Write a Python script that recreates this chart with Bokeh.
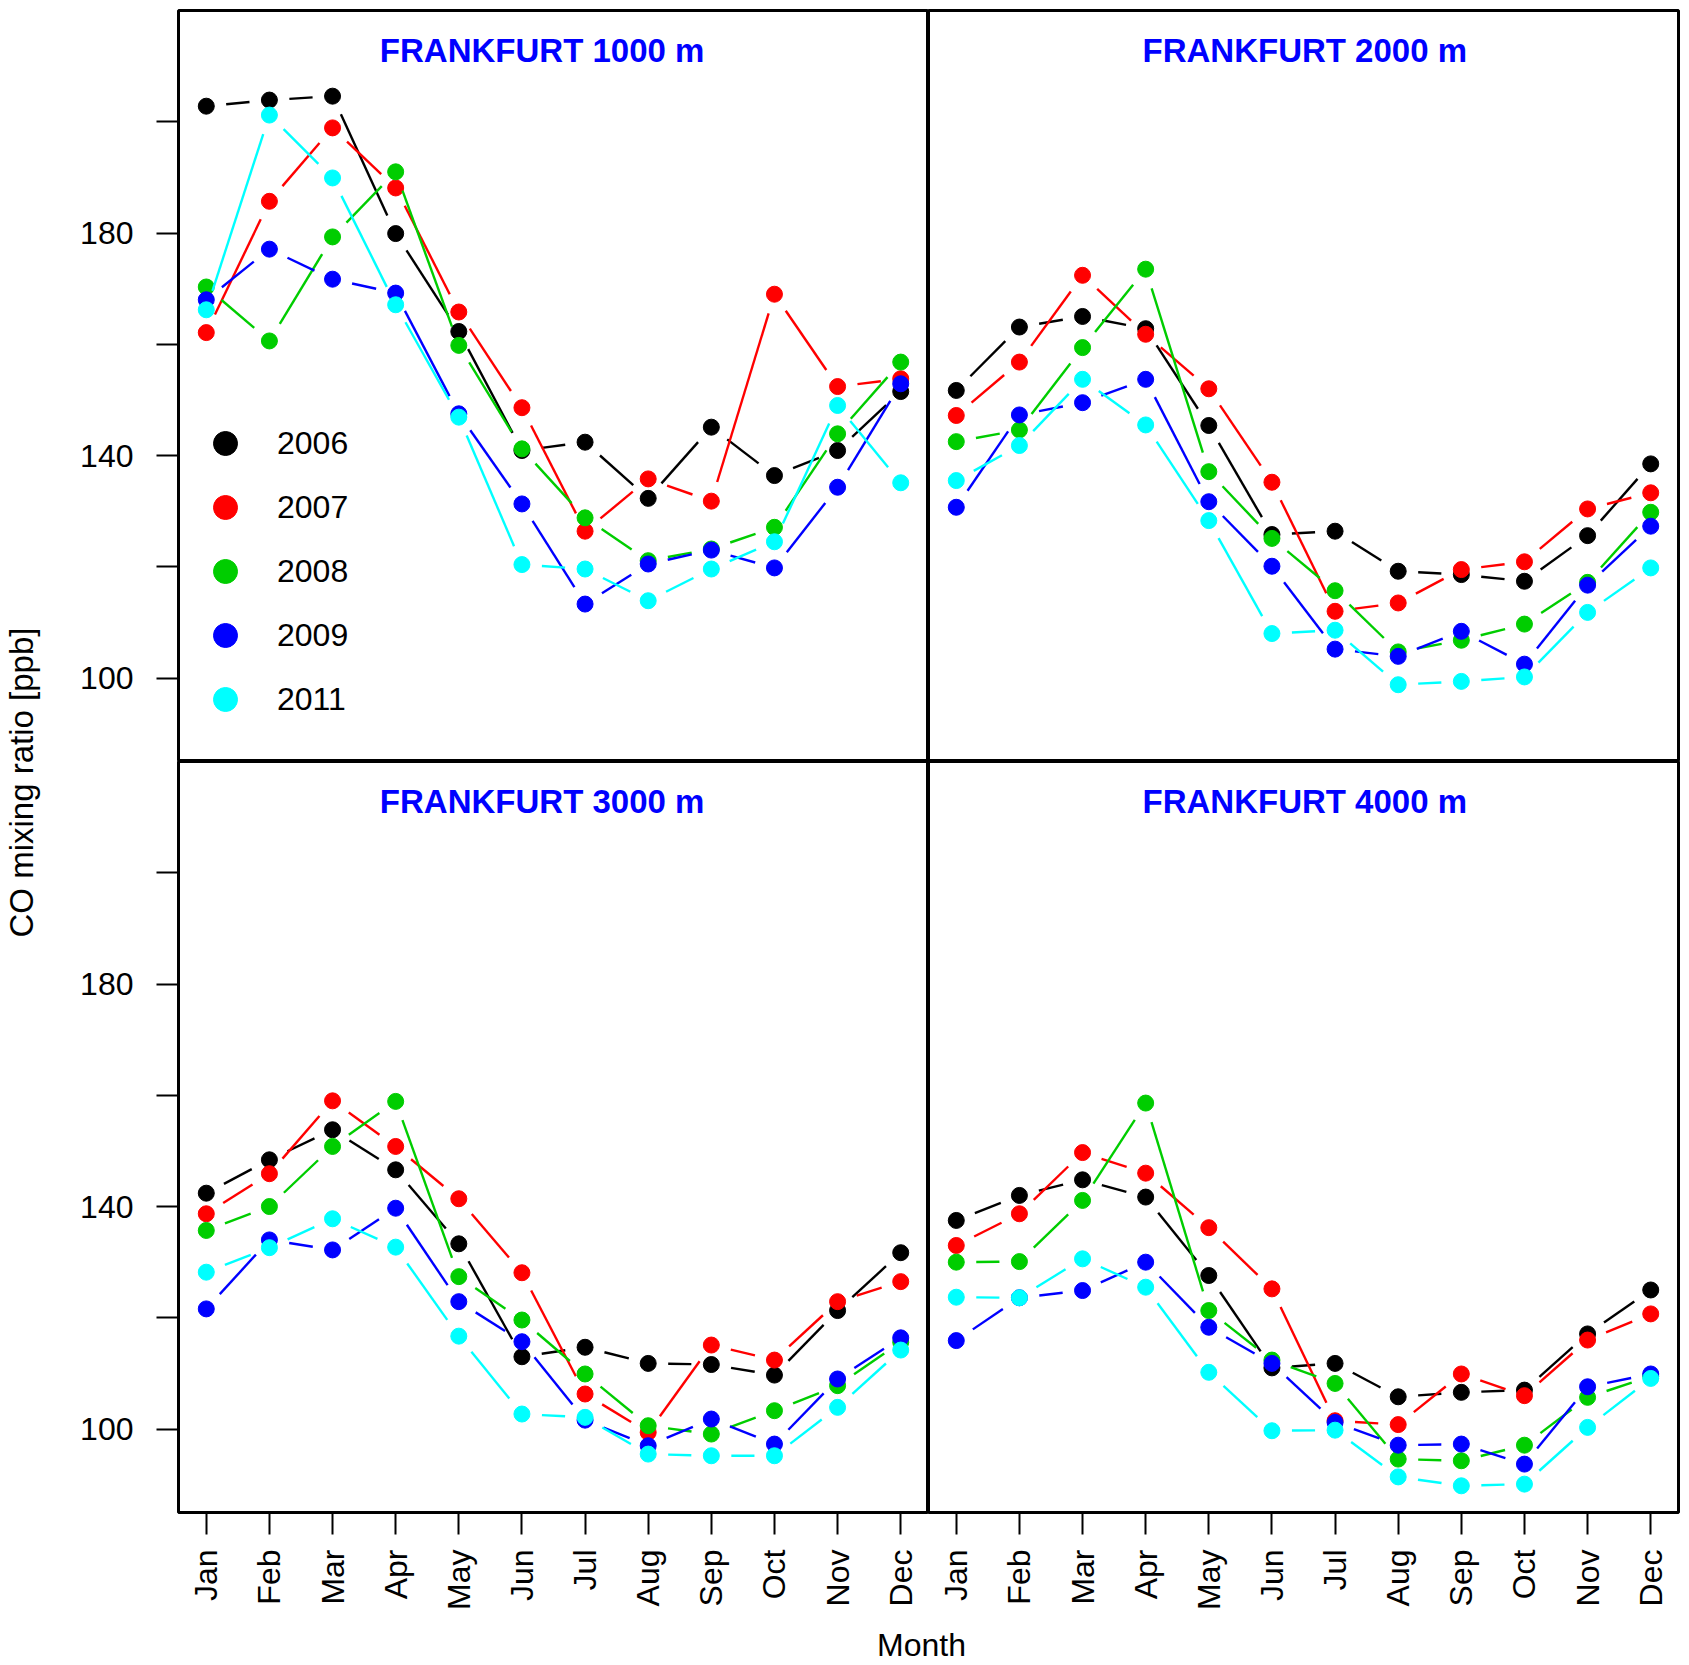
import math
from bokeh.plotting import figure
from bokeh.models import FixedTicker, Label, Legend, LegendItem
from bokeh.layouts import gridplot, row, column
from bokeh.embed import file_html
from bokeh.resources import INLINE

# ---------------- data ----------------
months = ["Jan", "Feb", "Mar", "Apr", "May", "Jun", "Jul", "Aug", "Sep", "Oct", "Nov", "Dec"]
month_num = [1, 2, 3, 4, 5, 6, 7, 8, 9, 10, 11, 12]
years = ["2006", "2007", "2008", "2009", "2011"]
year_colors = ["#000000", "#FF0000", "#00CD00", "#0000FF", "#00FFFF"]
panel_titles = ["FRANKFURT 1000 m", "FRANKFURT 2000 m", "FRANKFURT 3000 m", "FRANKFURT 4000 m"]
y_ticks = [100, 120, 140, 160, 180, 200]
y_tick_labels = ["100", "", "140", "", "180", ""]

co_1000_2006 = [202.8, 203.9, 204.6, 179.9, 162.3, 140.9, 142.4, 132.3, 145.1, 136.4, 140.9, 151.5]
co_1000_2007 = [162.1, 185.7, 198.9, 188.1, 165.8, 148.6, 126.4, 135.8, 131.8, 169.0, 152.4, 153.8]
co_1000_2008 = [170.3, 160.6, 179.3, 191.0, 159.8, 141.2, 128.8, 121.1, 123.2, 127.1, 143.9, 156.8]
co_1000_2009 = [168.0, 177.1, 171.7, 169.2, 147.5, 131.3, 113.3, 120.5, 123.0, 119.8, 134.3, 152.9]
co_1000_2011 = [166.2, 201.2, 189.9, 167.1, 146.9, 120.4, 119.6, 113.9, 119.6, 124.5, 149.0, 135.1]

co_2000_2006 = [151.7, 163.1, 165.0, 162.8, 145.4, 125.8, 126.4, 119.2, 118.6, 117.4, 125.6, 138.5]
co_2000_2007 = [147.2, 156.8, 172.4, 161.8, 152.0, 135.2, 112.0, 113.5, 119.5, 120.9, 130.4, 133.3]
co_2000_2008 = [142.5, 144.6, 159.4, 173.5, 137.1, 125.1, 115.7, 104.7, 106.8, 109.7, 117.2, 129.8]
co_2000_2009 = [130.7, 147.3, 149.5, 153.7, 131.7, 120.1, 105.2, 103.9, 108.4, 102.5, 116.7, 127.3]
co_2000_2011 = [135.5, 141.8, 153.7, 145.5, 128.3, 108.0, 108.6, 98.8, 99.4, 100.2, 111.8, 119.8]

co_3000_2006 = [142.4, 148.4, 153.8, 146.6, 133.3, 113.0, 114.7, 111.8, 111.6, 109.7, 121.3, 131.7]
co_3000_2007 = [138.7, 145.9, 159.0, 150.8, 141.4, 128.1, 106.3, 99.4, 115.1, 112.4, 122.9, 126.5]
co_3000_2008 = [135.7, 140.0, 150.8, 158.9, 127.4, 119.6, 109.9, 100.6, 99.1, 103.3, 107.8, 115.6]
co_3000_2009 = [121.6, 134.0, 132.2, 139.7, 122.9, 115.7, 101.6, 97.0, 101.8, 97.3, 109.0, 116.4]
co_3000_2011 = [128.2, 132.6, 137.8, 132.7, 116.7, 102.7, 102.1, 95.5, 95.2, 95.2, 103.9, 114.2]

co_4000_2006 = [137.5, 142.0, 144.8, 141.7, 127.6, 111.0, 111.8, 105.8, 106.6, 107.0, 117.1, 125.0]
co_4000_2007 = [133.0, 138.7, 149.7, 146.0, 136.2, 125.2, 101.5, 100.8, 109.9, 106.0, 116.0, 120.7]
co_4000_2008 = [130.0, 130.1, 141.1, 158.6, 121.3, 112.4, 108.2, 94.6, 94.3, 97.1, 105.7, 109.5]
co_4000_2009 = [115.9, 123.6, 124.9, 130.0, 118.3, 111.8, 101.2, 97.1, 97.3, 93.7, 107.6, 109.9]
co_4000_2011 = [123.7, 123.6, 130.6, 125.5, 110.2, 99.7, 99.8, 91.4, 89.8, 90.1, 100.3, 109.1]

panel_series = [
    [co_1000_2006, co_1000_2007, co_1000_2008, co_1000_2009, co_1000_2011],
    [co_2000_2006, co_2000_2007, co_2000_2008, co_2000_2009, co_2000_2011],
    [co_3000_2006, co_3000_2007, co_3000_2008, co_3000_2009, co_3000_2011],
    [co_4000_2006, co_4000_2007, co_4000_2008, co_4000_2009, co_4000_2011],
]

# ---------------- layout constants ----------------
FONT = "Liberation Sans"
FRAME_W, FRAME_H = 750, 751
X0, X1 = 0.56, 12.44
Y0, Y1 = 85, 220
KX = FRAME_W / (X1 - X0)
KY = FRAME_H / (Y1 - Y0)
GAP = 20  # px gap around points (R type="b")
LEFT_W = 48
GRID_LEFT = 130
RIGHT_B = 8
TOP_B = 10
BOTTOM_B = 108
MONTH_H = 45
TOTAL_H = TOP_B + FRAME_H + FRAME_H + BOTTOM_B + MONTH_H


def gapped_segments(xs, ys):
    a, b, c, d = [], [], [], []
    for i in range(len(xs) - 1):
        dx = (xs[i + 1] - xs[i]) * KX
        dy = (ys[i + 1] - ys[i]) * KY
        L = math.hypot(dx, dy)
        if L <= 2 * GAP:
            continue
        t = GAP / L
        a.append(xs[i] + t * (xs[i + 1] - xs[i]))
        b.append(ys[i] + t * (ys[i + 1] - ys[i]))
        c.append(xs[i + 1] - t * (xs[i + 1] - xs[i]))
        d.append(ys[i + 1] - t * (ys[i + 1] - ys[i]))
    return a, b, c, d


def make_panel(idx):
    top = idx < 2
    left = idx % 2 == 0
    p = figure(
        frame_width=FRAME_W, frame_height=FRAME_H,
        x_range=(X0, X1), y_range=(Y0, Y1),
        x_axis_location=None if top else "below",
        y_axis_location="left" if left else None,
        output_backend="svg", toolbar_location=None,
        min_border=0,
        min_border_left=GRID_LEFT if left else 0,
        min_border_right=0 if left else RIGHT_B,
        min_border_top=TOP_B if top else 0,
        min_border_bottom=0 if top else BOTTOM_B,
    )
    p.grid.visible = False
    p.outline_line_color = "black"
    p.outline_line_width = 3
    p.background_fill_color = "white"
    p.border_fill_color = "white"

    if left:
        ax = p.yaxis[0]
        ax.ticker = FixedTicker(ticks=y_ticks)
        ax.major_label_overrides = {t: l for t, l in zip(y_ticks, y_tick_labels)}
        ax.axis_line_color = None
        ax.major_tick_in = 0
        ax.major_tick_out = 22
        ax.major_tick_line_width = 2
        ax.minor_tick_line_color = None
        ax.major_label_standoff = 23
        ax.major_label_text_font = FONT
        ax.major_label_text_font_size = "32px"
        ax.major_label_text_color = "black"
    if not top:
        ax = p.xaxis[0]
        ax.ticker = FixedTicker(ticks=month_num)
        ax.major_label_overrides = {m: n for m, n in zip(month_num, months)}
        ax.major_label_orientation = math.pi / 2
        ax.axis_line_color = None
        ax.major_tick_in = 0
        ax.major_tick_out = 22
        ax.major_tick_line_width = 2
        ax.minor_tick_line_color = None
        ax.major_label_standoff = 15
        ax.major_label_text_font = FONT
        ax.major_label_text_font_size = "32px"
        ax.major_label_text_color = "black"

    scatters = []
    for vals, col in zip(panel_series[idx], year_colors):
        a, b, c, d = gapped_segments(month_num, vals)
        p.segment(x0=a, y0=b, x1=c, y1=d, line_color=col, line_width=2.4)
        sc = p.scatter(x=month_num, y=vals, size=16, marker="circle",
                       fill_color=col, line_color=col)
        scatters.append(sc)

    tx = 6.32 if left else 6.52
    p.add_layout(Label(x=tx, y=Y1 - 39.5 / KY, text=panel_titles[idx],
                       text_align="center", text_baseline="middle",
                       text_font=FONT, text_font_size="33px",
                       text_font_style="bold", text_color="#0000FF"))

    if idx == 0:
        legend = Legend(
            items=[LegendItem(label=y, renderers=[s]) for y, s in zip(years, scatters)],
            location=(17, 32), orientation="vertical",
            glyph_width=60, glyph_height=60, label_standoff=22, spacing=4,
            padding=0, margin=0, border_line_color=None,
            background_fill_alpha=0,
            label_text_font=FONT, label_text_font_size="32px",
            label_text_color="black",
            label_text_baseline="middle", label_height=60,
        )
        p.add_layout(legend)
    return p


panels = [make_panel(i) for i in range(4)]
grid = gridplot([[panels[0], panels[1]], [panels[2], panels[3]]],
                toolbar_location=None)

grid_w = GRID_LEFT + FRAME_W + FRAME_W + RIGHT_B

# y-axis label strip
ylab = figure(frame_width=LEFT_W, frame_height=TOTAL_H, x_range=(0, LEFT_W),
              y_range=(0, TOTAL_H), x_axis_location=None, y_axis_location=None,
              output_backend="svg", toolbar_location=None, min_border=0)
ylab.grid.visible = False
ylab.outline_line_color = None
ylab.add_layout(Label(x=21, y=TOTAL_H - 782, text="CO mixing ratio [ppb]",
                      angle=math.pi / 2, text_align="center", text_baseline="middle",
                      text_font=FONT, text_font_size="33px", text_color="black"))

# x-axis label strip
mlab = figure(frame_width=grid_w, frame_height=MONTH_H, x_range=(0, grid_w),
              y_range=(0, MONTH_H), x_axis_location=None, y_axis_location=None,
              output_backend="svg", toolbar_location=None, min_border=0)
mlab.grid.visible = False
mlab.outline_line_color = None
mlab.add_layout(Label(x=921 - LEFT_W, y=21, text="Month", text_align="center",
                      text_baseline="middle", text_font=FONT,
                      text_font_size="32px", text_color="black"))

page = row(ylab, column(grid, mlab))

open("out.html", "w").write(file_html(page, INLINE))
